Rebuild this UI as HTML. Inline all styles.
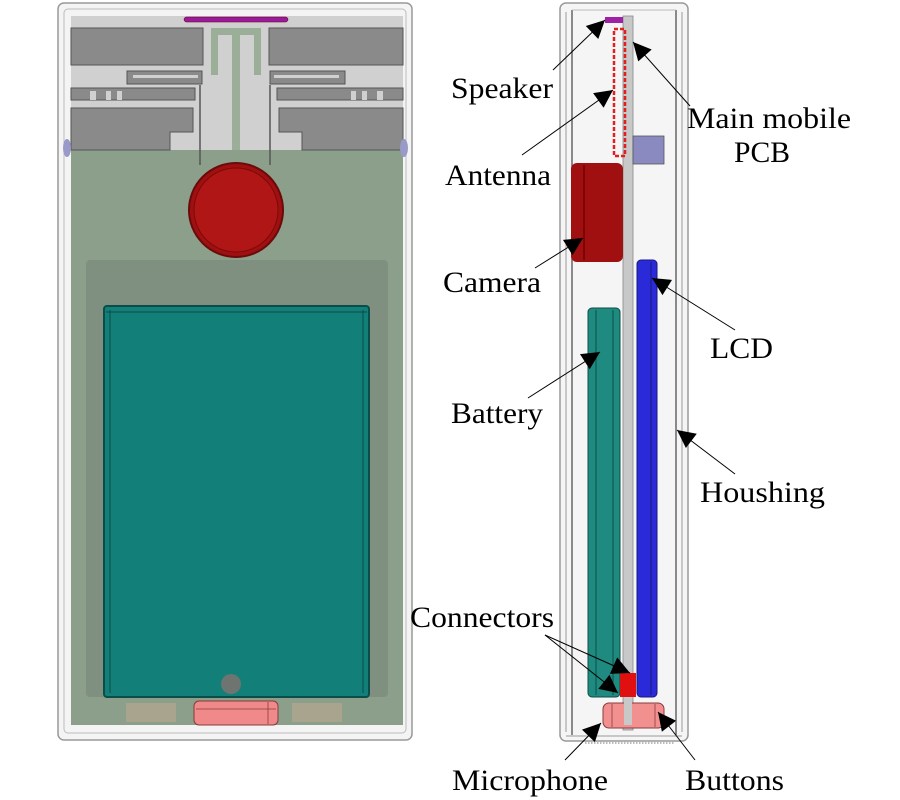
<!DOCTYPE html>
<html><head><meta charset="utf-8"><style>
html,body{margin:0;padding:0;background:#fff;}
svg{display:block}
text{font-family:"Liberation Serif",serif;font-size:30px;fill:#000}
</style></head><body>
<svg width="900" height="800" viewBox="0 0 900 800" xmlns="http://www.w3.org/2000/svg">
<defs>
<marker id="a" viewBox="0 0 10 10" refX="10" refY="5" markerWidth="20" markerHeight="18" orient="auto" markerUnits="userSpaceOnUse">
<path d="M0,0 L10,5 L0,10 z" fill="#000"/>
</marker>
</defs>

<!-- LEFT PHONE -->
<rect x="58" y="3" width="354" height="737" rx="6" fill="#f4f4f4" stroke="#999" stroke-width="1.5"/>
<rect x="64" y="9" width="342" height="724" rx="4" fill="none" stroke="#bbb" stroke-width="1"/>
<rect x="71" y="16" width="332" height="709" fill="#8c9f8b"/>
<rect x="71" y="16" width="332" height="134" fill="#cfd0cf"/>
<rect x="71" y="28" width="132" height="37" fill="#8a8a8a" stroke="#555" stroke-width="1"/>
<rect x="127" y="71" width="75" height="13" fill="#8a8a8a" stroke="#555" stroke-width="1"/>
<rect x="133" y="75" width="65" height="3" fill="#cfd0cf"/>
<path d="M71,88 H195 V100 H71 Z" fill="#8a8a8a" stroke="#555" stroke-width="1"/>
<rect x="90" y="91" width="6" height="9" fill="#cfd0cf"/><rect x="106" y="91" width="5" height="9" fill="#cfd0cf"/><rect x="117" y="91" width="5" height="9" fill="#cfd0cf"/>
<path d="M71,108 H193 V132 H170 V150 H71 Z" fill="#8a8a8a" stroke="#555" stroke-width="1"/>
<line x1="200" y1="85" x2="200" y2="165" stroke="#555" stroke-width="1.5"/>
<rect x="269" y="28" width="134" height="37" fill="#8a8a8a" stroke="#555" stroke-width="1"/>
<rect x="270" y="71" width="75" height="13" fill="#8a8a8a" stroke="#555" stroke-width="1"/>
<rect x="274" y="75" width="65" height="3" fill="#cfd0cf"/>
<path d="M277,88 H403 V100 H277 Z" fill="#8a8a8a" stroke="#555" stroke-width="1"/>
<rect x="351" y="91" width="5" height="9" fill="#cfd0cf"/><rect x="362" y="91" width="5" height="9" fill="#cfd0cf"/><rect x="377" y="91" width="6" height="9" fill="#cfd0cf"/>
<path d="M279,108 H403 V150 H302 V132 H279 Z" fill="#8a8a8a" stroke="#555" stroke-width="1"/>
<line x1="270" y1="85" x2="270" y2="165" stroke="#555" stroke-width="1.5"/>
<rect x="211" y="28" width="50" height="7" fill="#9aae98"/>
<rect x="211" y="28" width="7" height="47" fill="#9aae98"/>
<rect x="254" y="28" width="7" height="47" fill="#9aae98"/>
<rect x="232" y="28" width="8" height="122" fill="#9aae98"/>
<rect x="184" y="17" width="104" height="5" rx="2.5" fill="#9a1aa0" stroke="#600" stroke-width="0.5"/>
<ellipse cx="67" cy="148" rx="4" ry="9" fill="#9a9ac8"/>
<ellipse cx="404" cy="148" rx="4" ry="9" fill="#9a9ac8"/>
<circle cx="236" cy="210" r="47" fill="#a01010" stroke="#6a0a0a" stroke-width="2"/>
<circle cx="236" cy="210" r="42" fill="#b01616" stroke="#7a0a0a" stroke-width="1"/>
<rect x="86" y="260" width="302" height="437" rx="4" fill="#7f9081"/>
<rect x="104" y="306" width="265" height="391" rx="3" fill="#128078" stroke="#0b4d48" stroke-width="2"/>
<line x1="110" y1="310" x2="110" y2="693" stroke="#0b4d48" stroke-width="1"/>
<line x1="363" y1="310" x2="363" y2="693" stroke="#0b4d48" stroke-width="1"/>
<line x1="106" y1="312" x2="367" y2="312" stroke="#0b4d48" stroke-width="1"/>
<circle cx="231" cy="684" r="10" fill="#6e7470"/>
<rect x="126" y="703" width="50" height="19" fill="#a9a48e"/>
<rect x="292" y="703" width="50" height="19" fill="#a9a48e"/>
<rect x="194" y="701" width="84" height="24" rx="5" fill="#f08a8a" stroke="#8a3a3a" stroke-width="1"/>
<line x1="196" y1="709" x2="276" y2="709" stroke="#8a3a3a" stroke-width="0.8"/>
<line x1="268" y1="702" x2="268" y2="724" stroke="#8a3a3a" stroke-width="0.8"/>

<!-- RIGHT PHONE -->
<rect x="560" y="3" width="128" height="738" rx="6" fill="#f5f5f5" stroke="#999" stroke-width="1.5"/>
<line x1="566" y1="12" x2="566" y2="732" stroke="#999" stroke-width="1"/>
<line x1="572" y1="10" x2="572" y2="735" stroke="#666" stroke-width="1.5"/>
<line x1="676" y1="10" x2="676" y2="735" stroke="#666" stroke-width="1.5"/>
<line x1="682" y1="12" x2="682" y2="732" stroke="#999" stroke-width="1"/>
<line x1="572" y1="10" x2="676" y2="10" stroke="#bbb" stroke-width="1"/>
<line x1="566" y1="736" x2="682" y2="736" stroke="#999" stroke-width="1"/>
<line x1="585" y1="743" x2="675" y2="743" stroke="#777" stroke-width="1" stroke-dasharray="1.5,1.5"/>
<rect x="623" y="16" width="10" height="714" fill="#c8c8c8" stroke="#888" stroke-width="0.8"/>
<rect x="605" y="17" width="18" height="6" fill="#a020a8"/>
<rect x="614" y="29" width="11" height="127" fill="none" stroke="#e02020" stroke-width="2.5" stroke-dasharray="4,2"/>
<rect x="633" y="136" width="31" height="28" fill="#8a8ac0" stroke="#555" stroke-width="0.8"/>
<rect x="571" y="163" width="52" height="99" rx="6" fill="#a01010"/>
<line x1="584" y1="165" x2="584" y2="260" stroke="#700" stroke-width="1.5"/>
<rect x="637" y="260" width="20" height="437" rx="4" fill="#2a2ad8" stroke="#181880" stroke-width="1"/>
<line x1="651" y1="262" x2="651" y2="695" stroke="#181880" stroke-width="1"/>
<rect x="588" y="308" width="32" height="389" rx="4" fill="#1e8a80" stroke="#0b4d48" stroke-width="1"/>
<line x1="596" y1="310" x2="596" y2="695" stroke="#0b4d48" stroke-width="1"/>
<line x1="613" y1="310" x2="613" y2="695" stroke="#0b4d48" stroke-width="1"/>
<rect x="620" y="673" width="16" height="24" fill="#e01010"/>
<rect x="603" y="703" width="61" height="25" rx="6" fill="#f29090" stroke="#8a3a3a" stroke-width="1"/>
<line x1="612" y1="704" x2="612" y2="727" stroke="#8a3a3a" stroke-width="0.8"/>
<line x1="655" y1="704" x2="655" y2="727" stroke="#8a3a3a" stroke-width="0.8"/>
<rect x="624" y="697" width="8" height="28" fill="#c8c8c8"/>

<g stroke="#000" stroke-width="1" fill="none">
<line x1="553" y1="70" x2="605" y2="20" marker-end="url(#a)"/>
<line x1="690" y1="106" x2="633" y2="42" marker-end="url(#a)"/>
<line x1="522" y1="155" x2="613" y2="90" marker-end="url(#a)"/>
<line x1="535" y1="268" x2="583" y2="238" marker-end="url(#a)"/>
<line x1="735" y1="330" x2="652" y2="278" marker-end="url(#a)"/>
<line x1="528" y1="398" x2="600" y2="352" marker-end="url(#a)"/>
<line x1="735" y1="474" x2="677" y2="430" marker-end="url(#a)"/>
<line x1="545" y1="635" x2="630" y2="673" marker-end="url(#a)"/>
<line x1="545" y1="635" x2="618" y2="693" marker-end="url(#a)"/>
<line x1="565" y1="760" x2="601" y2="723" marker-end="url(#a)"/>
<line x1="695" y1="760" x2="658" y2="712" marker-end="url(#a)"/>
</g>

<text x="451" y="98" textLength="102" lengthAdjust="spacingAndGlyphs">Speaker</text>
<text x="687" y="128" textLength="164" lengthAdjust="spacingAndGlyphs">Main mobile</text>
<text x="734" y="162" textLength="56" lengthAdjust="spacingAndGlyphs">PCB</text>
<text x="445" y="185" textLength="106" lengthAdjust="spacingAndGlyphs">Antenna</text>
<text x="443" y="292" textLength="98" lengthAdjust="spacingAndGlyphs">Camera</text>
<text x="710" y="358" textLength="63" lengthAdjust="spacingAndGlyphs">LCD</text>
<text x="451" y="423" textLength="92" lengthAdjust="spacingAndGlyphs">Battery</text>
<text x="700" y="502" textLength="125" lengthAdjust="spacingAndGlyphs">Houshing</text>
<text x="410" y="627" textLength="144" lengthAdjust="spacingAndGlyphs">Connectors</text>
<text x="452" y="790" textLength="156" lengthAdjust="spacingAndGlyphs">Microphone</text>
<text x="685" y="790" textLength="99" lengthAdjust="spacingAndGlyphs">Buttons</text>
</svg>
</body></html>
